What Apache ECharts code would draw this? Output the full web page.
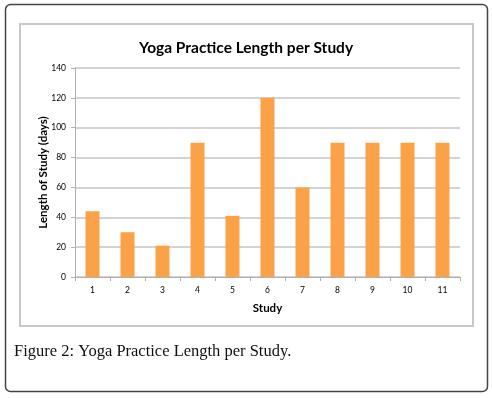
<!DOCTYPE html>
<html>
<head>
<meta charset="utf-8">
<script src="https://cdn.jsdelivr.net/npm/echarts@6/dist/echarts.min.js"></script>
<style>
  html, body { margin: 0; padding: 0; background: #fff; }
  #chart { width: 492px; height: 398px; }
</style>
</head>
<body>
<div id="chart"></div>
<script>
  // study numbers on the x axis
  const studies = ['1', '2', '3', '4', '5', '6', '7', '8', '9', '10', '11']
  // length of each study in days
  const lengthDays = [44, 30, 21, 90, 41, 120, 60, 90, 90, 90, 90]

  const chart = echarts.init(document.getElementById('chart'))
  chart.setOption({
    animation: false,
    title: {
      text: 'Yoga Practice Length per Study',
      left: 'center',
      top: 35,
      textStyle: { fontFamily: 'Lato', fontWeight: 'bold', fontSize: 15.5, color: '#000' }
    },
    graphic: [
      /** outer frame */
      {
        type: 'rect',
        shape: { x: 5.5, y: 4.5, width: 482, height: 387, r: 5 },
        style: { fill: 'none', stroke: '#444', lineWidth: 1.5 },
        z: -1
      },
      /** chart area frame */
      {
        type: 'rect',
        shape: { x: 20, y: 24, width: 453, height: 302 },
        style: { fill: 'none', stroke: '#c8c8c8', lineWidth: 2 },
        z: -1
      },
      /** caption */
      {
        type: 'text',
        left: 14,
        top: 343,
        style: {
          text: 'Figure 2: Yoga Practice Length per Study.',
          font: '16.5px "Liberation Serif", serif',
          fill: '#111'
        }
      }
    ],
    grid: { left: 75, right: 32, top: 68, bottom: 121 },
    xAxis: {
      type: 'category',
      data: studies,
      name: 'Study',
      nameLocation: 'middle',
      nameGap: 25,
      nameTextStyle: { fontFamily: 'Lato', fontWeight: 'bold', fontSize: 11.5, color: '#000' },
      axisLine: { lineStyle: { color: '#b0b0b0', width: 1 } },
      axisTick: { show: true, length: 4, lineStyle: { color: '#b0b0b0' } },
      axisLabel: { fontFamily: 'Lato', fontSize: 8.5, color: '#000', margin: 9 }
    },
    yAxis: {
      type: 'value',
      min: 0,
      max: 140,
      interval: 20,
      name: 'Length of Study (days)',
      nameLocation: 'middle',
      nameGap: 26,
      nameMoveOverlap: false,
      nameTextStyle: { fontFamily: 'Lato', fontWeight: 'bold', fontSize: 11.5, color: '#000' },
      axisLine: { show: true, lineStyle: { color: '#b0b0b0', width: 1 } },
      axisTick: { show: true, length: 4, lineStyle: { color: '#b0b0b0' } },
      axisLabel: { fontFamily: 'Lato', fontSize: 8.5, color: '#000', margin: 9 },
      splitLine: { lineStyle: { color: '#c4c4c4', width: 1.5 } }
    },
    series: [
      {
        type: 'bar',
        data: lengthDays,
        barWidth: 14,
        itemStyle: { color: '#fba148' }
      }
    ]
  })
</script>
</body>
</html>
